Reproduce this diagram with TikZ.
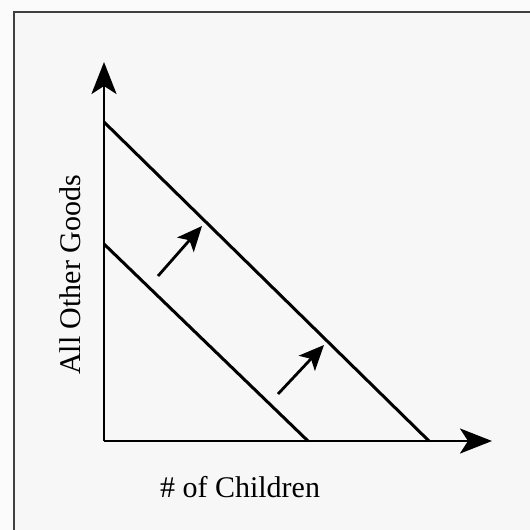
\documentclass[tikz,border=0pt]{standalone}
\usepackage{fontspec}
\setmainfont{Liberation Serif}
\usetikzlibrary{arrows.meta}
\begin{document}
\begin{tikzpicture}[x=1pt,y=-1pt,
  axis/.style={line width=2.8pt, -{Stealth[length=32pt,width=25pt,inset=8pt]}},
  budget/.style={line width=3pt},
  shift arrow/.style={line width=2.8pt, -{Stealth[length=25pt,width=22pt,inset=6pt]}},
  label/.style={font=\fontsize{30}{36}\selectfont, inner sep=0pt}]
\useasboundingbox (0,0) rectangle (530,530);
\fill[white!97!gray] (0,0) rectangle (530,530);
\begin{scope}
\clip (0,0) rectangle (530,530);
\draw[line width=2.5pt, draw=black!75, fill=white!94!gray] (14,12) rectangle (560,560);
\end{scope}
\coordinate (O) at (104,441);
\coordinate (ytip) at (104,62);
\coordinate (xtip) at (492,441);
\coordinate (a1) at (104,244);
\coordinate (b1) at (308,441);
\coordinate (a2) at (104,122);
\coordinate (b2) at (429,441);
\coordinate (s1) at (158,276);
\coordinate (t1) at (202,226);
\coordinate (s2) at (278,394);
\coordinate (t2) at (324,345);
\draw[axis] (O) -- (ytip);
\draw[axis] (O) -- (xtip);
\draw[budget] (a1) -- (b1);
\draw[budget] (a2) -- (b2);
\draw[shift arrow] (s1) -- (t1);
\draw[shift arrow] (s2) -- (t2);
\node[label, anchor=base, rotate=90] (ylab) at (80,275) {All Other Goods};
\node[label, anchor=base] (xlab) at (240,497) {\# of Children};
\end{tikzpicture}
\end{document}
